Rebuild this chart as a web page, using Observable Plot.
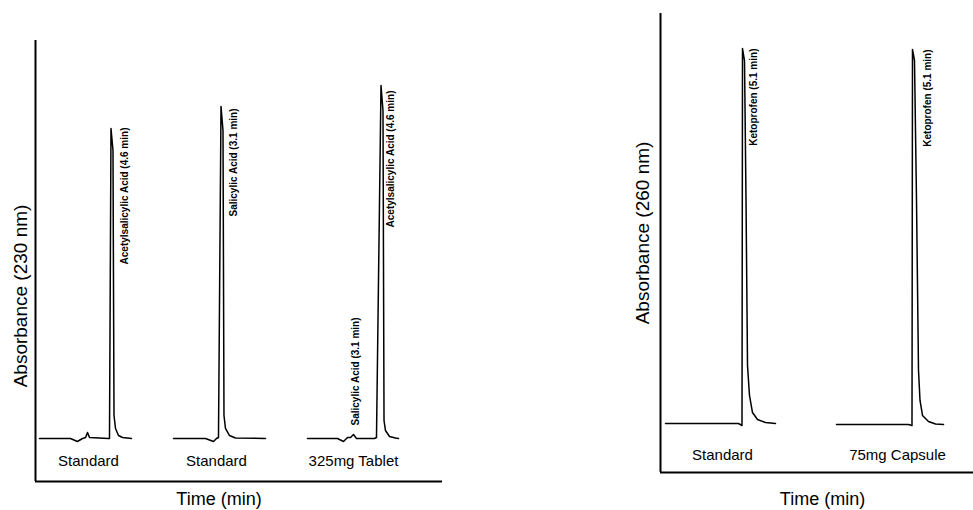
<!DOCTYPE html>
<html>
<head>
<meta charset="utf-8">
<script src="https://cdn.jsdelivr.net/npm/d3@7"></script>
<script src="https://cdn.jsdelivr.net/npm/@observablehq/plot@0.6"></script>
<style>
  html, body { margin: 0; padding: 0; background: #fff; }
  #wrap { position: relative; width: 973px; height: 510px; overflow: hidden; background: #fff; }
  #wrap svg { position: absolute; top: 0; }
</style>
</head>
<body>
<div id="wrap"></div>
<script>
// ---------- Left panel: detection at 230 nm ----------
const leftSamples = ["Standard", "Standard", "325mg Tablet"];
// run 1: Standard (acetylsalicylic acid)
const leftT1 = [0.98, 8.6, 10.3, 11.55, 12.3, 12.78, 13.27, 17.94, 18.18, 18.55, 19.04, 19.29, 19.66, 20.39, 21.38, 23.59];
const leftA1 = [9.75, 9.75, 9.07, 9.75, 9.98, 11.11, 9.98, 9.75, 9.75, 80.05, 75.06, 14.97, 12.02, 10.43, 9.98, 9.75];
// run 2: Standard (salicylic acid)
const leftT2 = [33.91, 41.77, 43.73, 44.47, 44.96, 45.58, 46.07, 46.31, 46.68, 47.67, 49.14, 56.51];
const leftA2 = [9.75, 9.75, 9.07, 9.75, 9.98, 85.03, 79.59, 14.97, 12.02, 10.43, 9.86, 9.75];
// run 3: 325mg Tablet
const leftT3 = [66.83, 74.2, 75.68, 76.66, 77.4, 78.13, 78.87, 83.29, 83.78, 84.89, 85.38, 85.63, 85.99, 86.98, 88.45, 89.19];
const leftA3 = [9.75, 9.75, 9.07, 9.98, 9.98, 10.66, 9.75, 9.75, 9.98, 89.8, 84.13, 13.83, 11.56, 10.2, 9.86, 9.75];
const leftSampleX = [13.02, 44.47, 78.13];
const leftSampleY = [4.54, 4.54, 4.54];
const leftPeakLabels = ["Acetylsalicylic Acid (4.6 min)", "Salicylic Acid (3.1 min)", "Salicylic Acid (3.1 min)", "Acetylsalicylic Acid (4.6 min)"];
const leftPeakX = [21.87, 48.65, 78.62, 87.22];
const leftPeakY = [80.27, 84.58, 37.19, 88.66];

// ---------- Right panel: detection at 260 nm ----------
const rightSamples = ["Standard", "75mg Capsule"];
const rightT1 = [1.6, 24.92, 26.04, 26.2, 26.84, 27.32, 27.8, 28.43, 29.39, 30.99, 33.55, 36.74];
const rightA1 = [10.68, 10.68, 10.24, 92.37, 89.76, 59.26, 23.31, 16.78, 13.07, 11.55, 10.89, 10.68];
const rightT2 = [56.23, 79.23, 80.35, 80.51, 81.15, 81.79, 82.43, 82.91, 83.71, 85.62, 87.86, 90.42];
const rightA2 = [10.46, 10.46, 10.24, 92.16, 89.76, 59.26, 22.22, 15.69, 12.42, 11.11, 10.57, 10.46];
const rightSampleX = [19.81, 75.72];
const rightSampleY = [3.7, 3.7];
const rightPeakLabels = ["Ketoprofen (5.1 min)", "Ketoprofen (5.1 min)"];
const rightPeakX = [29.71, 85.3];
const rightPeakY = [92.37, 92.16];

// ---------- build tables ----------
function runs(ts, as) {
  const rows = [];
  ts.forEach((t, i) => t.forEach((v, j) => rows.push({run: i, t: v, a: as[i][j]})));
  return rows;
}
function labels(texts, xs, ys) {
  return texts.map((s, i) => ({label: s, x: xs[i], y: ys[i]}));
}

const FONT = "'Liberation Sans', Arial, Helvetica, sans-serif";

function panel(o) {
  return Plot.plot({
    width: o.width,
    height: 510,
    marginLeft: o.marginLeft,
    marginRight: o.marginRight,
    marginTop: o.marginTop,
    marginBottom: o.marginBottom,
    x: {domain: [0, 100], axis: null},
    y: {domain: [0, 100], axis: null},
    style: {fontFamily: FONT, background: "white", color: "black", overflow: "visible"},
    marks: [
      Plot.ruleX([0], {stroke: "black", strokeWidth: 2}),
      Plot.ruleY([0], {stroke: "black", strokeWidth: 2}),
      Plot.line(o.traces, {x: "t", y: "a", z: "run", stroke: "black", strokeWidth: 1.5}),
      Plot.text(o.peaks, {x: "x", y: "y", text: "label", rotate: -90, textAnchor: "end",
        fontSize: 10, fontWeight: "bold", fill: "black"}),
      Plot.text(o.samples, {x: "x", y: "y", text: "label", fontSize: 15, fill: "black"}),
      Plot.text([o.yTitle], {text: d => d, frameAnchor: "left", textAnchor: "middle", lineAnchor: "middle",
        rotate: -90, dx: o.yDx, dy: o.yDy, fontSize: 19, fill: "black"}),
      Plot.text(["Time (min)"], {text: d => d, frameAnchor: "bottom", textAnchor: "middle", lineAnchor: "middle",
        dx: o.xDx, dy: o.xDy, fontSize: 18, fill: "black"})
    ]
  });
}

const left = panel({
  width: 460, marginLeft: 35, marginRight: 18, marginTop: 40, marginBottom: 29,
  traces: runs([leftT1, leftT2, leftT3], [leftA1, leftA2, leftA3]),
  peaks: labels(leftPeakLabels, leftPeakX, leftPeakY),
  samples: labels(leftSamples, leftSampleX, leftSampleY),
  yTitle: "Absorbance (230 nm)", yDx: -15, yDy: 35,
  xDx: -20, xDy: 18
});
left.style.left = "0px";

const right = panel({
  width: 373, marginLeft: 60, marginRight: 0, marginTop: 13, marginBottom: 38,
  traces: runs([rightT1, rightT2], [rightA1, rightA2]),
  peaks: labels(rightPeakLabels, rightPeakX, rightPeakY),
  samples: labels(rightSamples, rightSampleX, rightSampleY),
  yTitle: "Absorbance (260 nm)", yDx: -18, yDy: -10,
  xDx: 5.5, xDy: 27
});
right.style.left = "600px";

const wrap = document.getElementById("wrap");
wrap.appendChild(left);
wrap.appendChild(right);
</script>
</body>
</html>
